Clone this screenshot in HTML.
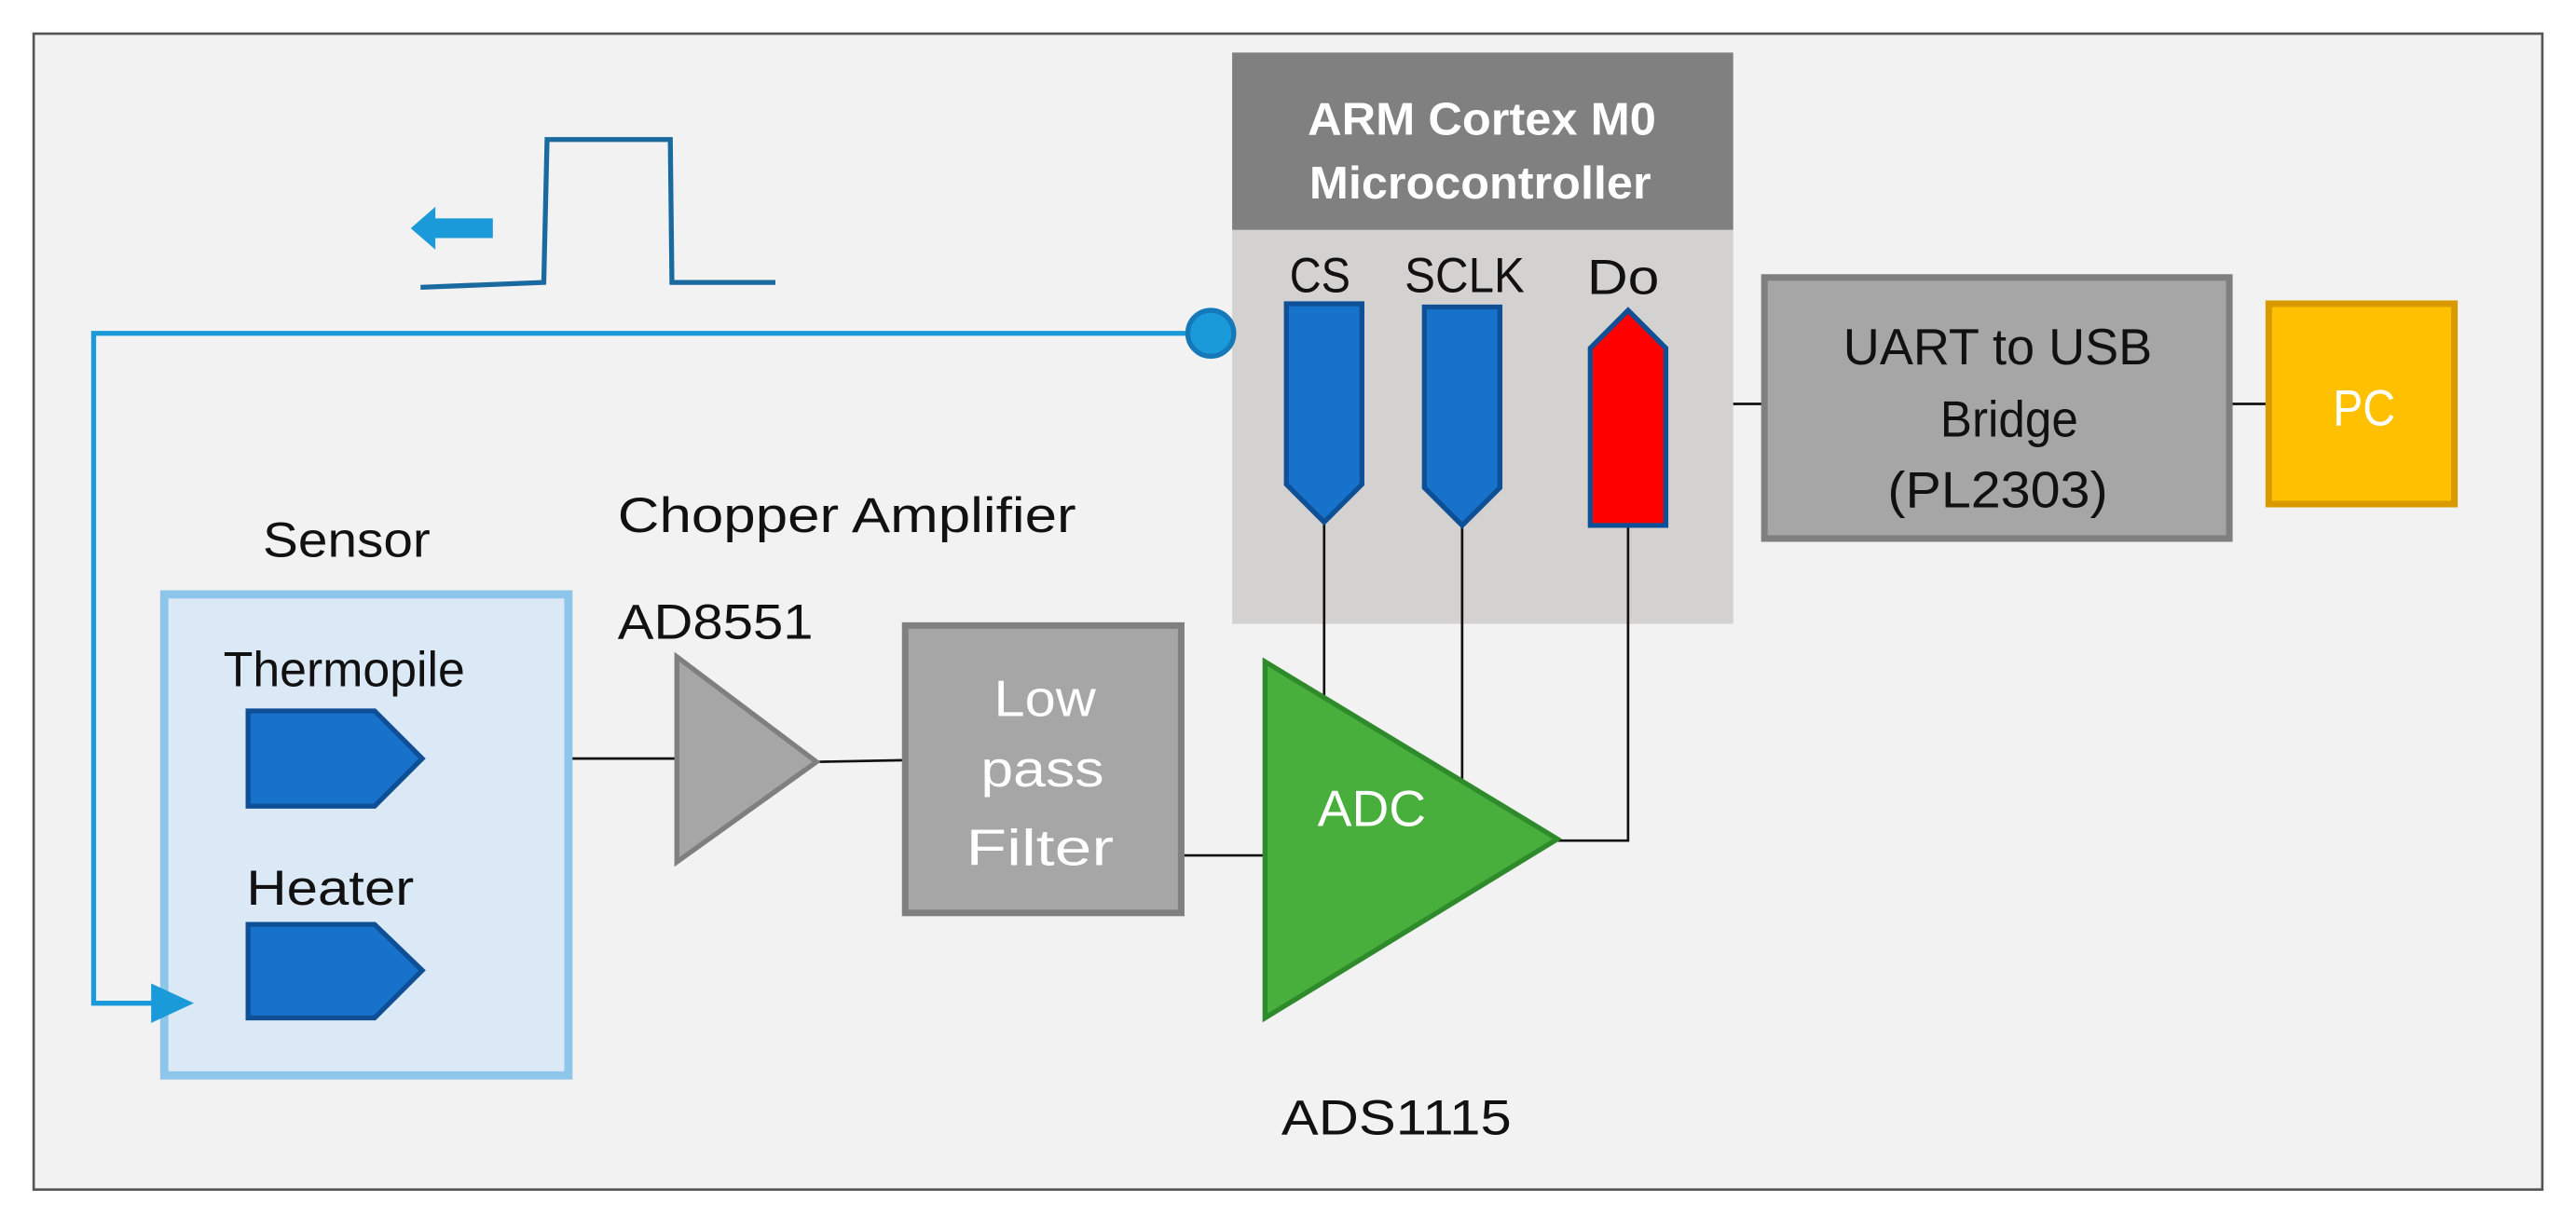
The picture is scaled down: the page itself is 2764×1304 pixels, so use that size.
<!DOCTYPE html>
<html><head><meta charset="utf-8"><style>html,body{margin:0;padding:0;background:#fff}svg{display:block}</style></head>
<body>
<svg width="2764" height="1304" viewBox="0 0 1568 740" preserveAspectRatio="none" xmlns="http://www.w3.org/2000/svg" font-family="'Liberation Sans', sans-serif">
<rect x="0" y="0" width="1568" height="740" fill="#fff"/>
<rect x="20.5" y="20.5" width="1527" height="704" fill="#f2f2f2" stroke="#555" stroke-width="1.5"/>

<!-- microcontroller -->
<rect x="750" y="140" width="305" height="240" fill="#d4d1d1"/>
<rect x="750" y="32" width="305" height="108" fill="#808080"/>
<text x="796" y="82" font-size="28" font-weight="bold" fill="#fff" textLength="212" lengthAdjust="spacingAndGlyphs">ARM Cortex M0</text>
<text x="797" y="121" font-size="28" font-weight="bold" fill="#fff" textLength="208" lengthAdjust="spacingAndGlyphs">Microcontroller</text>
<g font-size="30" fill="#111">
<text x="785" y="178" textLength="37" lengthAdjust="spacingAndGlyphs">CS</text>
<text x="855" y="178" textLength="73" lengthAdjust="spacingAndGlyphs">SCLK</text>
<text x="966" y="179" textLength="44" lengthAdjust="spacingAndGlyphs">Do</text>
</g>

<!-- wires -->
<g stroke="#111" stroke-width="1.5" fill="none">
<line x1="806" y1="318" x2="806" y2="425"/>
<line x1="890" y1="320" x2="890" y2="475"/>
<polyline points="991,320 991,512 948,512"/>
<line x1="720" y1="521" x2="772" y2="521"/>
<line x1="497" y1="464" x2="550" y2="463"/>
<line x1="258" y1="462" x2="412" y2="462"/>
<line x1="1055" y1="246" x2="1073" y2="246"/>
<line x1="1357" y1="246" x2="1380" y2="246"/>
</g>

<!-- pins -->
<polygon points="783,185 829,185 829,295 806,318 783,295" fill="#1772cb" stroke="#0e4f96" stroke-width="3"/>
<polygon points="867,187 913,187 913,297 890,320 867,297" fill="#1772cb" stroke="#0e4f96" stroke-width="3"/>
<polygon points="968,212 991,189 1014,212 1014,320 968,320" fill="#ff0000" stroke="#0e4f96" stroke-width="3"/>

<!-- ADC -->
<polygon points="770,403 948,511 770,620" fill="#48ae3c" stroke="#2e8a2a" stroke-width="3"/>
<text x="802" y="503" font-size="31" fill="#fff" textLength="66" lengthAdjust="spacingAndGlyphs">ADC</text>
<text x="780" y="691" font-size="30" fill="#111" textLength="140" lengthAdjust="spacingAndGlyphs">ADS1115</text>

<!-- filter -->
<rect x="551" y="381" width="168" height="175" fill="#a6a6a6" stroke="#808080" stroke-width="4"/>
<text x="605" y="436" font-size="31" fill="#fff" textLength="62" lengthAdjust="spacingAndGlyphs">Low</text>
<text x="597" y="479" font-size="31" fill="#fff" textLength="75" lengthAdjust="spacingAndGlyphs">pass</text>
<text x="588" y="527" font-size="31" fill="#fff" textLength="90" lengthAdjust="spacingAndGlyphs">Filter</text>

<!-- amplifier -->
<polygon points="412,400 497,464 412,525" fill="#a6a6a6" stroke="#7f7f7f" stroke-width="3"/>
<text x="376" y="324" font-size="30" fill="#111" textLength="279" lengthAdjust="spacingAndGlyphs">Chopper Amplifier</text>
<text x="376" y="389" font-size="30" fill="#111" textLength="119" lengthAdjust="spacingAndGlyphs">AD8551</text>

<!-- sensor -->
<rect x="100" y="362" width="246" height="293" fill="#dbe8f5" stroke="#8ec5ea" stroke-width="5"/>
<text x="160" y="339" font-size="30" fill="#111" textLength="102" lengthAdjust="spacingAndGlyphs">Sensor</text>
<text x="136" y="418" font-size="30" fill="#111" textLength="147" lengthAdjust="spacingAndGlyphs">Thermopile</text>
<text x="150" y="551" font-size="30" fill="#111" textLength="102" lengthAdjust="spacingAndGlyphs">Heater</text>
<polygon points="151,433 228,433 257,462 228,491 151,491" fill="#1772cb" stroke="#0e4f96" stroke-width="3"/>
<polygon points="151,563 228,563 257,591 228,620 151,620" fill="#1772cb" stroke="#0e4f96" stroke-width="3"/>

<!-- feedback -->
<polyline points="725,203 57,203 57,611 95,611" fill="none" stroke="#1a9ad8" stroke-width="3"/>
<polygon points="92,599 118,611 92,623" fill="#1a9ad8"/>
<circle cx="737" cy="203" r="14" fill="#1a9ad8" stroke="#1578b8" stroke-width="3"/>

<!-- pulse -->
<polyline points="256,175 331,172 333,85 408,85 409,172 472,172" fill="none" stroke="#1a6aa0" stroke-width="3"/>
<polygon points="250,139 265,126 265,133 300,133 300,145 265,145 265,152" fill="#1a9ad8"/>

<!-- UART -->
<rect x="1074" y="169" width="283" height="159" fill="#a6a6a6" stroke="#7f7f7f" stroke-width="4"/>
<text x="1122" y="222" font-size="31" fill="#111" textLength="188" lengthAdjust="spacingAndGlyphs">UART to USB</text>
<text x="1181" y="266" font-size="31" fill="#111" textLength="84" lengthAdjust="spacingAndGlyphs">Bridge</text>
<text x="1149" y="309" font-size="31" fill="#111" textLength="134" lengthAdjust="spacingAndGlyphs">(PL2303)</text>

<!-- PC -->
<rect x="1381" y="185" width="113" height="122" fill="#ffc000" stroke="#d99a00" stroke-width="4"/>
<text x="1420" y="259" font-size="31" fill="#fff" textLength="38" lengthAdjust="spacingAndGlyphs">PC</text>
</svg>
</body></html>
